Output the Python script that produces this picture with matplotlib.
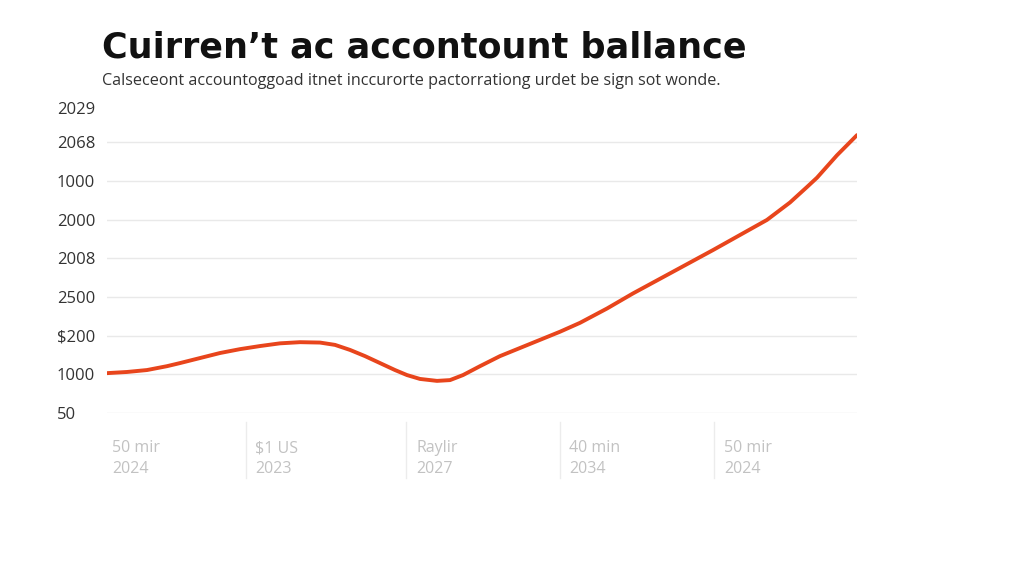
import numpy as np
import matplotlib.pyplot as plt

# Chart texts
title = "Cuirren\u2019t ac accontount ballance"
subtitle = "Calseceont accountoggoad itnet inccurorte pactorrationg urdet be sign sot wonde."

# y axis labels, bottom to top (label positions are index steps)
y_labels = ["50", "1000", "$200", "2500", "2008", "2000", "1000", "2068", "2029"]
y_label_pos = [0, 1, 2, 3, 4, 5, 6, 7, 7.88]

# x axis labels (two lines each)
x_labels = ["50 mir\n2024", "$1 US\n2023", "Raylir\n2027", "40 min\n2034", "50 mir\n2024"]

# balance curve (x in 0..750 units, y in label steps)
curve_x = [0, 20, 40, 60, 73, 93, 113, 133, 153, 173, 193, 213, 228, 243,
           258, 273, 288, 300, 313, 330, 343, 356, 373, 393, 413, 433, 453,
           473, 500, 526, 546, 566, 586, 606, 633, 660, 683, 700, 710, 730, 750]
curve_y = [1.03, 1.06, 1.11, 1.21, 1.29, 1.42, 1.55, 1.65, 1.73, 1.80, 1.83,
           1.82, 1.76, 1.63, 1.47, 1.29, 1.11, 0.98, 0.88, 0.83, 0.85, 0.98,
           1.21, 1.47, 1.68, 1.89, 2.10, 2.33, 2.70, 3.09, 3.37, 3.65, 3.93,
           4.21, 4.60, 4.99, 5.44, 5.84, 6.08, 6.66, 7.18]

line_color = "#e8451c"
grid_color = "#e9e9e9"

plt.rcParams['font.family'] = ['Open Sans', 'DejaVu Sans']

fig = plt.figure(figsize=(10.24, 5.85), dpi=100)
step = 38.7  # pixels per label step
ax = fig.add_axes([107 / 1024, 1 - 413 / 585, 750 / 1024, (413 - 95) / 585])

ax.set_xlim(0, 750)
ax.set_ylim(0, (413 - 95) / step)

# gridlines for every label but the top one
for p in y_label_pos[:-1]:
    ax.axhline(p, color=grid_color, lw=1.0, zorder=1)

ax.plot(curve_x, curve_y, color=line_color, lw=2.8, solid_capstyle='round',
        solid_joinstyle='round', zorder=3)

ax.set_yticks(y_label_pos)
ax.set_yticklabels(y_labels, fontsize=12, color="#333333")
for lbl in ax.get_yticklabels():
    lbl.set_horizontalalignment('left')
ax.tick_params(axis='y', length=0, pad=36)
ax.set_xticks([])
for s in ax.spines.values():
    s.set_visible(False)

# x labels and separators below the plot
sep_px = [246, 406, 560, 714]
lab_px = [112, 255, 416, 569, 724]
for px, txt in zip(lab_px, x_labels):
    fig.text(px / 1024, 1 - 440 / 585, txt, fontsize=11.5, color="#c2c2c2",
             ha='left', va='top', linespacing=1.4)
for px in sep_px:
    fig.add_artist(plt.Line2D([px / 1024, px / 1024], [1 - 422 / 585, 1 - 478 / 585],
                              color="#ececec", lw=1.0))

fig.text(102 / 1024, 1 - 58 / 585, title, fontsize=25.2, fontweight='bold',
         color="#111111", ha='left', va='baseline', family=['DejaVu Sans'])
fig.text(102 / 1024, 1 - 85 / 585, subtitle, fontsize=11.65, color="#333333",
         ha='left', va='baseline')

fig.savefig("out.png", dpi=100, facecolor="white")
